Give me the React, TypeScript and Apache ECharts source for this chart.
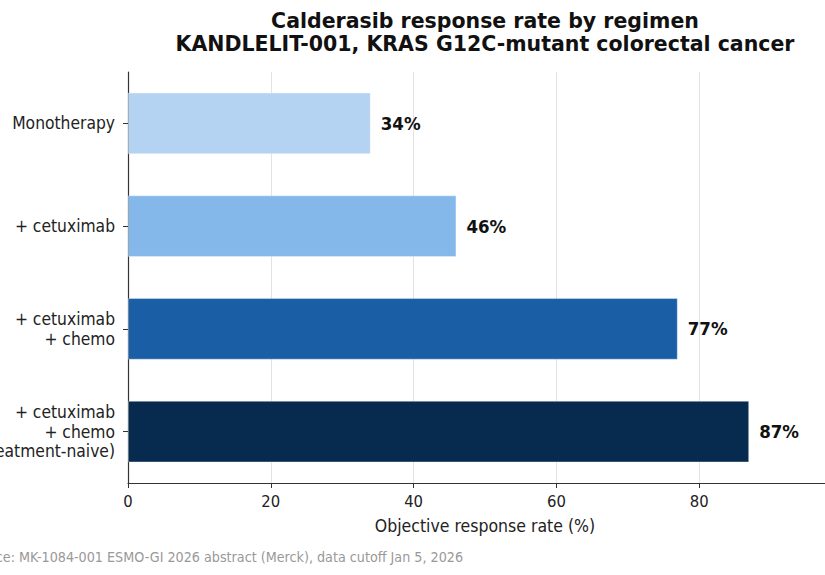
import React, { useEffect, useRef } from "react";
import * as echarts from "echarts";

// Regimens (top to bottom) and objective response rates in percent
const regimens = [
  "Monotherapy",
  "+ cetuximab",
  "+ cetuximab\n+ chemo",
  "+ cetuximab\n+ chemo\n(treatment-naive)",
];
const responseRates = [34, 46, 77, 87];
const barColors = ["#b4d3f3", "#84b8ea", "#1a5fa6", "#072a4f"];
const xTicks = [0, 20, 40, 60, 80, 100];

const titleLines = [
  "Calderasib response rate by regimen",
  "KANDLELIT-001, KRAS G12C-mutant colorectal cancer",
];
const sourceNote =
  "Source: MK-1084-001 ESMO-GI 2026 abstract (Merck), data cutoff Jan 5, 2026";

const FONT = "'DejaVu Sans Condensed', 'DejaVu Sans', sans-serif";
const TITLE_FONT = "'DejaVu Sans', sans-serif";

export default function App() {
  const ref = useRef<HTMLDivElement>(null);

  useEffect(() => {
    if (!ref.current) return;
    const chart = echarts.init(ref.current, undefined, { renderer: "svg" });
    const lastTick = xTicks[xTicks.length - 1];
    chart.setOption({
      animation: false,
      backgroundColor: "#ffffff",
      textStyle: { fontFamily: FONT },
      grid: {
        left: 128,
        right: 18,
        top: 72,
        bottom: 92,
        containLabel: false,
        outerBoundsMode: "none",
      },
      xAxis: {
        type: "value",
        min: xTicks[0],
        max: lastTick,
        interval: 20,
        name: "Objective response rate (%)",
        nameLocation: "middle",
        nameGap: 34,
        nameTextStyle: { fontSize: 17.5, color: "#222", fontFamily: FONT },
        axisLine: { show: true, lineStyle: { color: "#333", width: 1.2 } },
        axisTick: { show: true, length: 5, lineStyle: { color: "#333" } },
        axisLabel: {
          fontSize: 16.5,
          color: "#222",
          margin: 10,
          fontFamily: FONT,
          // the right end of the axis runs past the visible frame
          formatter: (v: number) => (v === lastTick ? "" : String(v)),
        },
        splitLine: { show: true, lineStyle: { color: "#e2e2e2", width: 1 } },
      },
      yAxis: {
        type: "category",
        inverse: true,
        data: regimens,
        axisLine: { show: true, lineStyle: { color: "#333", width: 1.2 } },
        axisTick: {
          show: true,
          alignWithLabel: true,
          length: 5,
          lineStyle: { color: "#333" },
        },
        axisLabel: {
          fontSize: 17.3,
          color: "#222",
          lineHeight: 19.5,
          margin: 13,
          align: "right",
          fontFamily: FONT,
        },
        splitLine: { show: false },
      },
      series: [
        {
          type: "bar",
          barWidth: "60%",
          data: responseRates.map((v, i) => ({
            value: v,
            itemStyle: {
              color: barColors[i],
              borderColor: "rgba(255,255,255,0.35)",
              borderWidth: 1,
            },
          })),
          label: {
            show: true,
            position: "right",
            distance: 10,
            formatter: "{c}%",
            fontSize: 18.5,
            fontWeight: "bold",
            color: "#111",
            fontFamily: FONT,
          },
        },
      ],
      graphic: [
        {
          type: "text",
          x: 485,
          y: 9,
          style: {
            text: titleLines.join("\n"),
            textAlign: "center",
            textVerticalAlign: "top",
            font: `bold 20.5px ${TITLE_FONT}`,
            lineHeight: 23,
            fill: "#111",
          },
        },
        {
          type: "text",
          x: 463,
          y: 557,
          style: {
            text: sourceNote,
            textAlign: "right",
            textVerticalAlign: "middle",
            font: `14.2px ${FONT}`,
            fill: "#999",
          },
        },
      ],
    });
    return () => chart.dispose();
  }, []);

  return (
    <div
      style={{
        position: "fixed",
        left: 0,
        top: 0,
        width: 825,
        height: 575,
        overflow: "hidden",
        background: "#fff",
      }}
    >
      <div ref={ref} style={{ width: 860, height: 575 }} />
    </div>
  );
}
